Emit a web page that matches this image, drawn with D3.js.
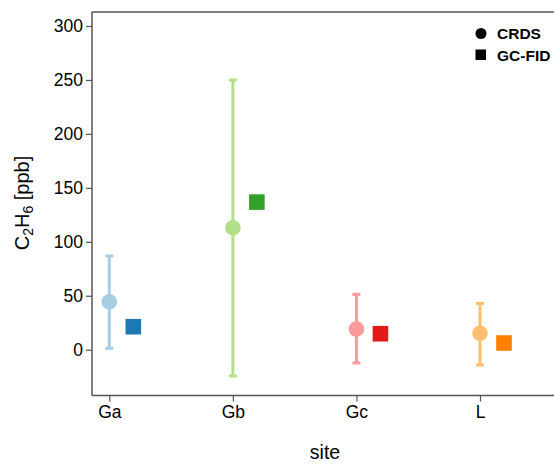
<!DOCTYPE html>
<html><head><meta charset="utf-8">
<script src="https://cdn.jsdelivr.net/npm/d3@7"></script>
<style>body{margin:0;background:#fff;}svg{display:block;font-family:"Liberation Sans",Arial,sans-serif;}</style>
</head><body>
<svg id="c" width="554" height="464"></svg>
<script>
const sites = ["Ga","Gb","Gc","L"];
const crdsMean = [44.4, 113, 19.2, 15.2];
const crdsLow = [1.3, -24.4, -12.3, -14.2];
const crdsHigh = [86.8, 250, 51.3, 43];
const gcfid = [21.3, 136.8, 14.8, 6.2];
const crdsColors = ["#a6cee3","#b2df8a","#fb9a99","#fdbf6f"];
const gcColors = ["#1f78b4","#33a02c","#e31a1c","#ff7f00"];
const yTicks = [0,50,100,150,200,250,300];

(function(){
const svg = d3.select("#c");
const pL = 92, pT = 12, pB = 395.5, pR = 560;
const y = d3.scaleLinear().domain([0,300]).range([349.7,26]);
const x = d3.scalePoint().domain(sites).range([109.3,480]);
const off = 24;

svg.append("line").attr("x1",pL).attr("x2",pR).attr("y1",pT).attr("y2",pT).attr("stroke","#555").attr("stroke-width",1.5);
const ya = svg.append("g").attr("transform",`translate(${pL},0)`)
  .call(d3.axisLeft(y).tickValues(yTicks).tickSize(6).tickPadding(3));
ya.select(".domain").attr("d",`M0,${pT}V${pB}`).attr("stroke","#555").attr("stroke-width",1.5);
ya.selectAll(".tick line").attr("stroke","#555").attr("stroke-width",1.2);
ya.selectAll(".tick text").attr("font-size",17.5).attr("fill","#000").attr("font-family","Liberation Sans, Arial, sans-serif");

const xa = svg.append("g").attr("transform",`translate(0,${pB})`)
  .call(d3.axisBottom(x).tickSize(6).tickPadding(4));
xa.select(".domain").attr("d",`M${pL},0H${pR}`).attr("stroke","#555").attr("stroke-width",1.5);
xa.selectAll(".tick line").attr("stroke","#555").attr("stroke-width",1.2);
xa.selectAll(".tick text").attr("font-size",17.5).attr("fill","#000").attr("font-family","Liberation Sans, Arial, sans-serif");

const g = svg.append("g");
sites.forEach((s,i)=>{
  const cx = x(s);
  g.append("line").attr("x1",cx).attr("x2",cx).attr("y1",y(crdsLow[i])).attr("y2",y(crdsHigh[i]))
    .attr("stroke",crdsColors[i]).attr("stroke-width",3);
  [crdsLow[i],crdsHigh[i]].forEach(v=>{
    g.append("line").attr("x1",cx-4).attr("x2",cx+4).attr("y1",y(v)).attr("y2",y(v))
      .attr("stroke",crdsColors[i]).attr("stroke-width",3);
  });
  g.append("circle").attr("cx",cx).attr("cy",y(crdsMean[i])).attr("r",7.8).attr("fill",crdsColors[i]);
  g.append("rect").attr("x",cx+off-7.8).attr("y",y(gcfid[i])-7.8).attr("width",15.6).attr("height",15.6).attr("fill",gcColors[i]);
});

const lg = svg.append("g");
lg.append("circle").attr("cx",481).attr("cy",33.5).attr("r",5.5).attr("fill","#000");
lg.append("text").attr("x",497).attr("y",39).attr("font-size",15.5).attr("font-weight","bold").attr("fill","#000").text("CRDS");
lg.append("rect").attr("x",475.5).attr("y",49.5).attr("width",10.5).attr("height",10.5).attr("fill","#000");
lg.append("text").attr("x",497).attr("y",60.5).attr("font-size",15.5).attr("font-weight","bold").attr("fill","#000").text("GC-FID");

svg.append("text").attr("x",325).attr("y",459).attr("text-anchor","middle").attr("font-size",19.5).attr("fill","#000").text("site");
const yt = svg.append("text").attr("transform","translate(29,203) rotate(-90)").attr("text-anchor","middle").attr("font-size",20).attr("fill","#000");
yt.append("tspan").text("C");
yt.append("tspan").attr("font-size",14).attr("dy",4).text("2");
yt.append("tspan").attr("dy",-4).text("H");
yt.append("tspan").attr("font-size",14).attr("dy",4).text("6");
yt.append("tspan").attr("dy",-4).text(" [ppb]");
})();
</script>
</body></html>
